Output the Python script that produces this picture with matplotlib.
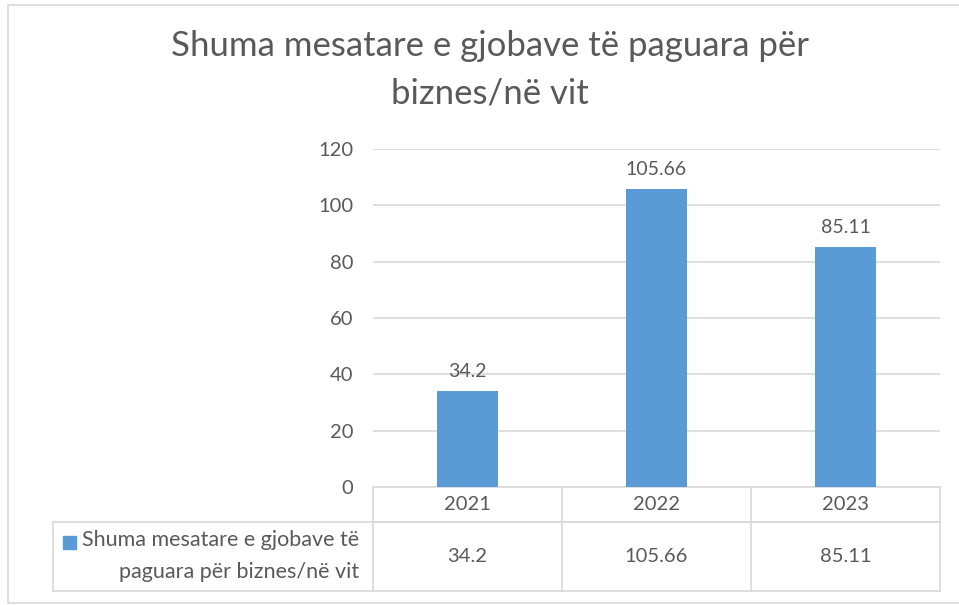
# bar chart with data table below, Excel style

import matplotlib.pyplot as plt
from matplotlib.patches import Rectangle
from matplotlib.transforms import blended_transform_factory

plt.rcParams['font.family'] = ['Lato', 'DejaVu Sans']

years = ['2021', '2022', '2023']
values = [34.2, 105.66, 85.11]
value_labels = ['34.2', '105.66', '85.11']
series_name = 'Shuma mesatare e gjobave të\npaguara për biznes/në vit'
title = 'Shuma mesatare e gjobave të paguara për\nbiznes/në vit'
yticks = [0, 20, 40, 60, 80, 100, 120]

bar_color = '#5B9BD5'
text_color = '#595959'
grid_color = '#D9D9D9'

W, H = 959, 605
fig = plt.figure(figsize=(W / 100, H / 100), dpi=100)

# outer chart border
fig.patches.append(Rectangle((8 / W, 1 - 603 / H), 1.0, (603 - 5) / H,
                             transform=fig.transFigure, fill=False,
                             edgecolor=grid_color, linewidth=1.2))

ax = fig.add_axes([373 / W, 1 - 487 / H, (940 - 373) / W, (487 - 149) / H])
x = list(range(len(years)))
ax.bar(x, values, width=0.32, color=bar_color, zorder=3)
for xi, v, lab in zip(x, values, value_labels):
    ax.annotate(lab, (xi, v), xytext=(0, 8), textcoords='offset points',
                ha='center', va='bottom', fontsize=14, color=text_color)

ax.set_xlim(-0.5, len(years) - 0.5)
ax.set_ylim(0, 120)
ax.set_yticks(yticks)
ax.set_xticks([])
ax.grid(axis='y', color=grid_color, linewidth=1.2, zorder=0)
for s in ['top', 'right', 'left']:
    ax.spines[s].set_visible(False)
ax.spines['bottom'].set_color(grid_color)
ax.spines['bottom'].set_linewidth(1.2)
ax.tick_params(axis='y', length=0, pad=14, labelsize=14.5, labelcolor=text_color)

fig.text(490 / W, 1 - 30 / H, title, fontsize=25, color=text_color,
         ha='center', va='top', linespacing=1.6)

# data table under the axis
tr = blended_transform_factory(ax.transData, ax.transAxes)
px = 1 / (487 - 149)
row1 = -35 * px
row2 = -104 * px
left_x = -0.5 - (373 - 53) / 189
line_kw = dict(color=grid_color, linewidth=1.2, transform=tr, clip_on=False)
ax.plot([-0.5, len(years) - 0.5], [row1, row1], **line_kw)
ax.plot([left_x, len(years) - 0.5], [row1, row1], **line_kw)
ax.plot([left_x, len(years) - 0.5], [row2, row2], **line_kw)
ax.plot([left_x, left_x], [row1, row2], **line_kw)
for b in [i - 0.5 for i in range(len(years) + 1)]:
    ax.plot([b, b], [0, row2], **line_kw)

for xi, yr, lab in zip(x, years, value_labels):
    ax.text(xi, row1 / 2, yr, transform=tr, ha='center', va='center',
            fontsize=14.5, color=text_color)
    ax.text(xi, (row1 + row2) / 2, lab, transform=tr, ha='center', va='center',
            fontsize=14.5, color=text_color)

ax.text(-0.5 - 14 / 189, (row1 + row2) / 2, series_name, transform=tr,
        ha='right', va='center', fontsize=15.5, color=text_color,
        multialignment='right', linespacing=1.75)
ax.add_patch(Rectangle((-0.5 - (373 - 63) / 189, -(536 - 487) * px - 13 * px),
                       13 / 189, 13 * px, transform=tr, clip_on=False,
                       color=bar_color))

fig.savefig('out.png', dpi=100)
